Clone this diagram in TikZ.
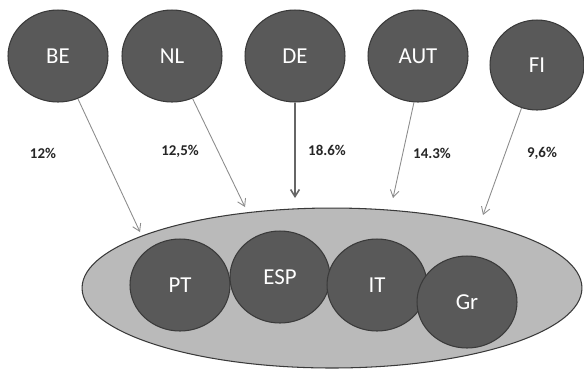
\documentclass[tikz,border=0pt]{standalone}
\usepackage{fontspec}
\setmainfont{Carlito}
\usetikzlibrary{arrows.meta, positioning, shapes.geometric}

\definecolor{paese}{HTML}{595959}
\definecolor{bordo}{HTML}{3A3A3A}
\definecolor{gruppo}{HTML}{BABABA}
\definecolor{freccia}{HTML}{8C8C8C}

\begin{document}
\begin{tikzpicture}[
  x=0.02cm, y=-0.02cm,
  country/.style={ellipse, draw=bordo, fill=paese, line width=0.6pt, inner sep=0pt,
    minimum width=2cm, minimum height=1.84cm, text=white, font=\fontsize{13}{15}\selectfont},
  quota/.style={font=\bfseries\fontsize{8.5}{10}\selectfont, text=black!85},
  flow/.style={-{Straight Barb[length=4pt, width=5pt]}, draw=freccia, line width=0.5pt}
]
  \useasboundingbox (0,0) rectangle (584,370);

  % Gruppo del sud
  \node[ellipse, draw=bordo, fill=gruppo, line width=0.6pt, minimum width=10cm, minimum height=3.2cm] (G) at (332,288) {};
  \node[country] (PT) at (180,285) {PT};
  \node[country] (ESP) at (280,277) {ESP};
  \node[country] (IT) at (377,285) {IT};
  \node[country] (GR) at (467,302) {Gr};

  % Paesi del nord
  \node[country] (BE) at (58,56) {BE};
  \node[country] (NL) at (172,56) {NL};
  \node[country] (DE) at (295,56) {DE};
  \node[country] (AUT) at (418,56) {AUT};
  \node[country, minimum width=1.88cm, minimum height=1.8cm] (FI) at (537,65) {FI};

  % Punti di arrivo
  \coordinate (eBE) at (140,232);
  \coordinate (eNL) at (245,207);
  \coordinate (eDE) at (295,198);
  \coordinate (eAUT) at (393,198);
  \coordinate (eFI) at (483,215);

  % Flussi
  \draw[flow] (BE) -- (eBE);
  \draw[flow] (NL) -- (eNL);
  \draw[flow, draw=black!60, line width=0.9pt] (DE) -- (eDE);
  \draw[flow] (AUT.-95) -- (eAUT);
  \draw[flow] (FI) -- (eFI);

  % Percentuali
  \node[quota] (qBE) at (43,153) {12\%};
  \node[quota] (qNL) at (180,151) {12,5\%};
  \node[quota] (qDE) at (327,150) {18.6\%};
  \node[quota] (qAUT) at (432,153) {14.3\%};
  \node[quota] (qFI) at (542,153) {9,6\%};
\end{tikzpicture}
\end{document}
